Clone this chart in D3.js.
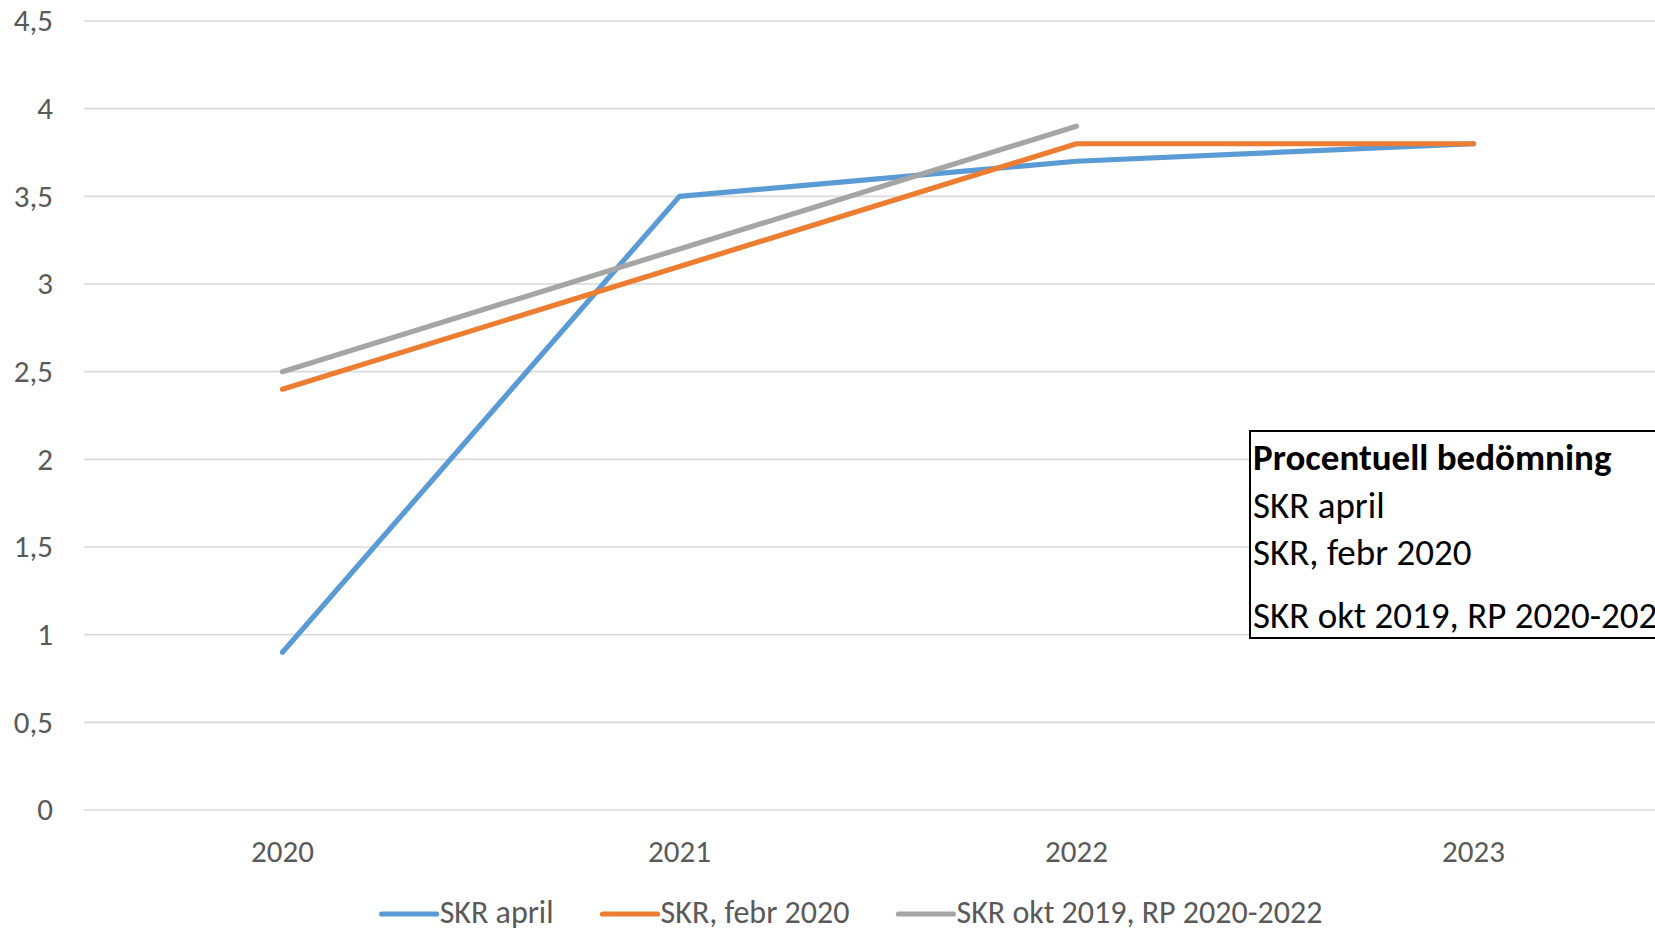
<!DOCTYPE html>
<html>
<head>
  <meta charset="utf-8">
  <script src="https://cdn.jsdelivr.net/npm/d3@7"></script>
  <style>
    html, body { margin: 0; padding: 0; background: #fff; overflow: hidden; }
    svg text { font-family: Carlito, Calibri, Lato, "Noto Sans", sans-serif; }
  </style>
</head>
<body>
<script>
  // chart data
  var years = ["2020", "2021", "2022", "2023"];
  var seriesNames = ["SKR april", "SKR, febr 2020", "SKR okt 2019, RP 2020-2022"];
  var skrApril = [0.9, 3.5, 3.7, 3.8];
  var skrFebr = [2.4, 3.1, 3.8, 3.8];
  var skrOkt = [2.5, 3.2, 3.9];
  var yTicks = [0, 0.5, 1, 1.5, 2, 2.5, 3, 3.5, 4, 4.5];
  var boxTitle = "Procentuell bedömning";
  var boxLines = ["SKR april", "SKR, febr 2020", "SKR okt 2019, RP 2020-2022"];

  var colors = ["#5B9BD5", "#ED7D31", "#A5A5A5"];
  var allSeries = [skrApril, skrFebr, skrOkt];

  var width = 1655, height = 931;
  var plotLeft = 84, plotTop = 21, plotBottom = 810;
  var bandW = 397;

  var svg = d3.select("body").append("svg")
      .attr("width", width)
      .attr("height", height);

  var x = d3.scaleBand()
      .domain(years)
      .range([plotLeft, plotLeft + bandW * years.length]);

  var y = d3.scaleLinear()
      .domain([0, 4.5])
      .range([plotBottom, plotTop]);

  /* gridlines */
  svg.append("g")
      .selectAll("line")
      .data(yTicks)
      .enter()
      .append("line")
        .attr("x1", plotLeft)
        .attr("x2", width)
        .attr("y1", function (d) { return y(d); })
        .attr("y2", function (d) { return y(d); })
        .style("stroke", "#D9D9D9")
        .style("stroke-width", 1.6);

  /* y tick labels */
  svg.append("g")
      .selectAll("text")
      .data(yTicks)
      .enter()
      .append("text")
        .attr("x", 53)
        .attr("y", function (d) { return y(d); })
        .attr("dy", "0.33em")
        .attr("text-anchor", "end")
        .style("font-size", "31px")
        .style("fill", "#595959")
        .text(function (d) { return String(d).replace(".", ","); });

  /* x tick labels */
  svg.append("g")
      .selectAll("text")
      .data(years)
      .enter()
      .append("text")
        .attr("x", function (d) { return x(d) + x.bandwidth() / 2; })
        .attr("y", 862)
        .attr("text-anchor", "middle")
        .style("font-size", "31px")
        .style("fill", "#595959")
        .text(function (d) { return d; });

  /* lines */
  var line = d3.line()
      .x(function (d, i) { return x(years[i]) + x.bandwidth() / 2; })
      .y(function (d) { return y(d); });

  svg.append("g")
      .selectAll("path")
      .data(allSeries)
      .enter()
      .append("path")
        .attr("d", function (d) { return line(d); })
        .style("fill", "none")
        .style("stroke", function (d, i) { return colors[i]; })
        .style("stroke-width", 5.2)
        .style("stroke-linecap", "round")
        .style("stroke-linejoin", "round");

  /* text box */
  var box = svg.append("g");
  box.append("rect")
      .attr("x", 1250)
      .attr("y", 431)
      .attr("width", 500)
      .attr("height", 207)
      .style("fill", "#fff")
      .style("stroke", "#000")
      .style("stroke-width", 2);

  box.append("text")
      .attr("x", 1253)
      .attr("y", 470)
      .style("font-size", "37px")
      .style("font-weight", "bold")
      .style("fill", "#000")
      .text(boxTitle);

  var boxY = [518, 565, 628];
  box.selectAll("text.line")
      .data(boxLines)
      .enter()
      .append("text")
        .attr("class", "line")
        .attr("x", 1253)
        .attr("y", function (d, i) { return boxY[i]; })
        .style("font-size", "37px")
        .style("fill", "#000")
        .text(function (d) { return d; });

  /* legend */
  var legend = svg.append("g");
  var lx = 0;
  seriesNames.forEach(function (name, i) {
    var item = legend.append("g").attr("transform", "translate(" + lx + ",0)");
    item.append("line")
        .attr("x1", 0).attr("x2", 55)
        .attr("y1", 914).attr("y2", 914)
        .style("stroke", colors[i])
        .style("stroke-width", 5.2)
        .style("stroke-linecap", "round");
    var t = item.append("text")
        .attr("x", 58)
        .attr("y", 923)
        .style("font-size", "32px")
        .style("fill", "#595959")
        .text(name);
    lx += 58 + t.node().getComputedTextLength() + 49;
  });
  var legendW = lx - 49;
  legend.attr("transform", "translate(" + (852 - legendW / 2) + ",0)");
</script>
</body>
</html>
